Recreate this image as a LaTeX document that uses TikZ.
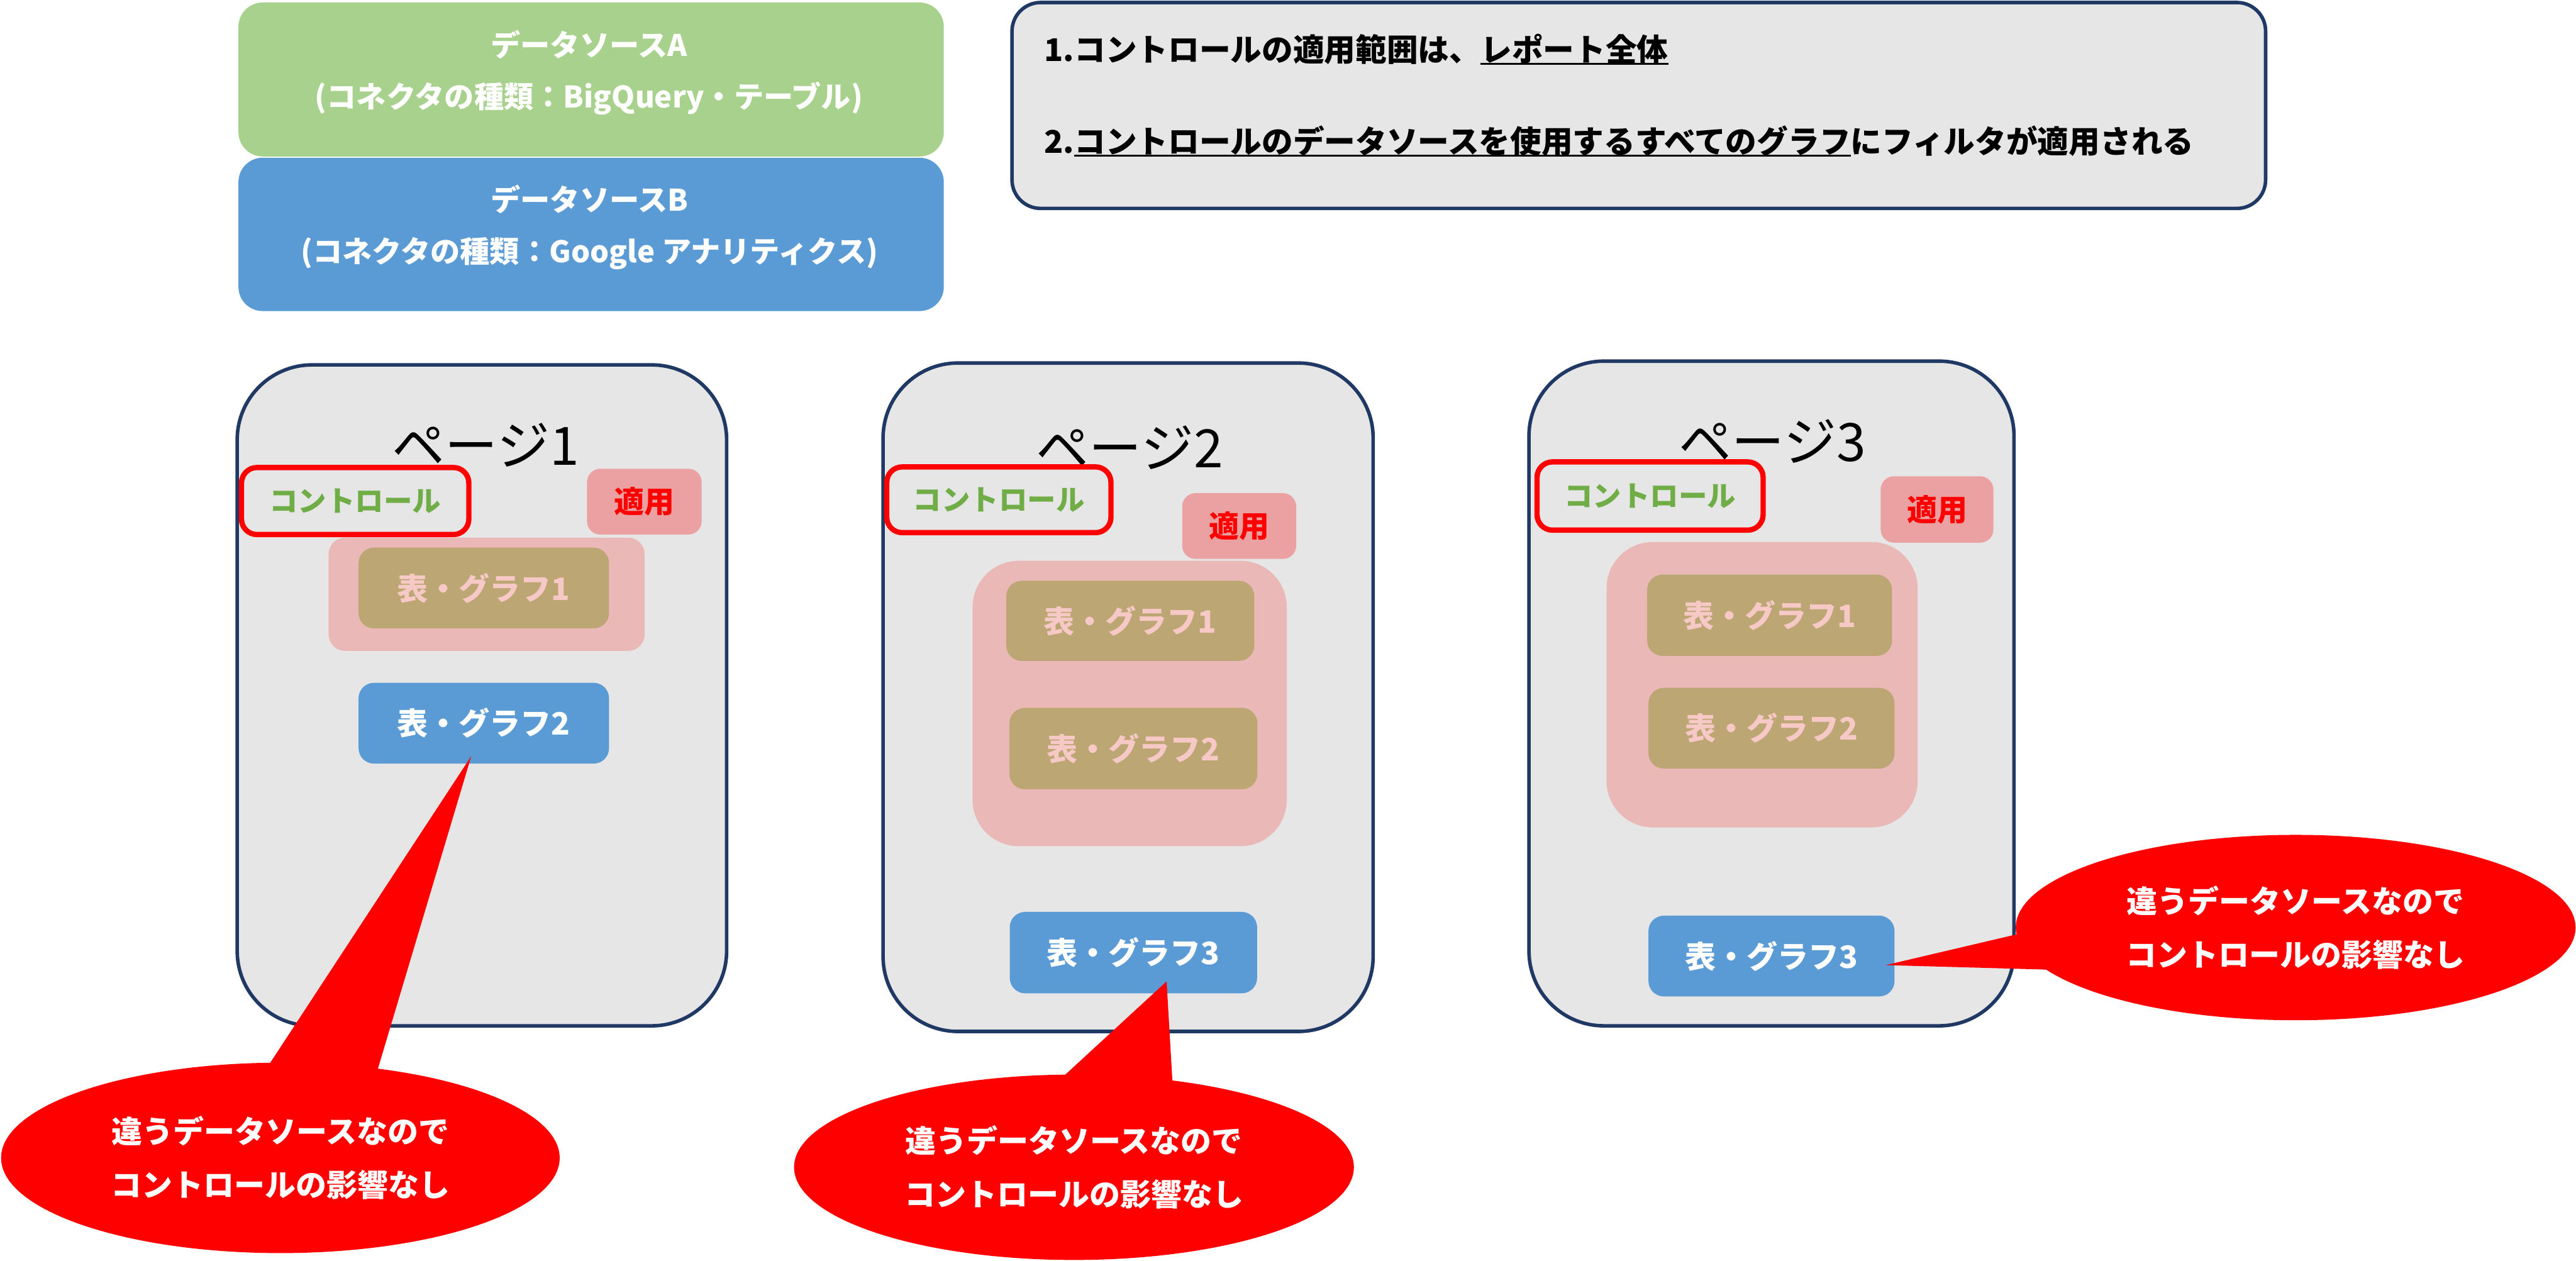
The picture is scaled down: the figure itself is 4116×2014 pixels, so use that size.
\documentclass[tikz,border=0pt]{standalone}
\usepackage{fontspec}
\newfontfamily\jp{Noto Sans CJK JP}
\usetikzlibrary{shapes.geometric,fit}
\definecolor{dsgreen}{HTML}{A9D18E}
\definecolor{boxblue}{HTML}{5B9BD5}
\definecolor{pagegray}{HTML}{E6E6E6}
\definecolor{navy}{HTML}{1F3864}
\definecolor{ctlgreen}{HTML}{70AD47}
\definecolor{applypink}{HTML}{EBA1A1}
\definecolor{zonepink}{HTML}{EBB8B8}
\definecolor{graphtan}{HTML}{BCA774}
\definecolor{pinktext}{HTML}{F6C8C6}
\newcommand\myul[1]{\setbox0\hbox{#1}\rlap{\rule[-1.5pt]{\wd0}{0.8pt}}\box0}
\tikzset{
  pagebox/.style={draw=navy, line width=1.6pt, fill=pagegray, rounded corners=34pt, inner sep=0pt},
  dsbox/.style={rounded corners=11pt, inner sep=0pt},
  dstext/.style={text=white, font=\jp\bfseries\fontsize{13.5}{23.6}\selectfont, align=center, inner sep=0pt},
  infobox/.style={draw=navy, line width=1.6pt, fill=pagegray, rounded corners=13pt, inner sep=0pt},
  infotext/.style={anchor=base west, inner sep=0pt, font=\jp\bfseries\fontsize{14.2}{17}\selectfont},
  pagetitle/.style={inner sep=0pt, font=\jp\fontsize{24}{28}\selectfont},
  ctlbox/.style={draw=red, line width=2.4pt, rounded corners=7pt, inner sep=0pt, text=ctlgreen, font=\jp\bfseries\fontsize{13}{15}\selectfont},
  applybox/.style={fill=applypink, rounded corners=6pt, inner sep=0pt, text=red, font=\jp\bfseries\fontsize{13.7}{16}\selectfont},
  zone/.style={fill=zonepink, inner sep=0pt},
  graphA/.style={fill=graphtan, rounded corners=7pt, inner sep=0pt, text=pinktext, font=\jp\bfseries\fontsize{14}{17}\selectfont},
  graphB/.style={fill=boxblue, rounded corners=7pt, inner sep=0pt, text=white, font=\jp\bfseries\fontsize{14}{17}\selectfont},
  bubble/.style={ellipse, fill=red, inner sep=0pt, text=white, align=center, font=\jp\bfseries\fontsize{14}{24.2}\selectfont},
  wedge/.style={fill=red},
  sz/.style 2 args={minimum width=#1cm, minimum height=#2cm},
}
\begin{document}
\begin{tikzpicture}[x=0.01cm,y=-0.01cm]
\useasboundingbox[fill=white] (0,0) rectangle (4116,2014);

% data sources
\node[dsbox, fill=dsgreen, fit={(381,4) (1508,250)}] (dsA) {};
\node[dstext] (dsAtxt) at (941,116) {データソースA\\(コネクタの種類：BigQuery・テーブル)};
\node[dsbox, fill=boxblue, fit={(381,252) (1508,497)}] (dsB) {};
\node[dstext] (dsBtxt) at (942,363) {データソースB\\(コネクタの種類：Google アナリティクス)};

% info box
\node[infobox, fit={(1617,4) (3620,333)}] (info) {};
\node[infotext] (info1) at (1668,98) {1.コントロールの適用範囲は、\myul{レポート全体}};
\node[infotext] (info2) at (1668,245) {2.\myul{コントロールのデータソースを使用するすべてのグラフ}にフィルタが適用される};

% pages
\node[pagebox, fit={(379,583) (1161,1639)}] (p1) {};
\node[pagebox, fit={(1411,580) (2194,1648)}] (p2) {};
\node[pagebox, fit={(2443,577) (3218,1639)}] (p3) {};

\node[pagetitle] (t1) at (776,711) {ページ1};
\node[pagetitle] (t2) at (1805,715) {ページ2};
\node[pagetitle] (t3) at (2832,705) {ページ3};

% page 1 content
\node[ctlbox, sz={3.63}{1.07}] (ctl1) at (567.5,800.5) {コントロール};
\node[applybox, sz={1.83}{1.05}] (ap1) at (1029.5,801.5) {適用};
\node[zone, rounded corners=7.5pt, fit={(525,859) (1030,1040)}] (z1) {};
\node[graphA, sz={4.00}{1.29}] (g11) at (773,939.5) {表・グラフ1};
\node[graphB, sz={4.00}{1.29}] (g12) at (773,1155.5) {表・グラフ2};

% page 2 content
\node[ctlbox, sz={3.58}{1.05}] (ctl2) at (1596,798.5) {コントロール};
\node[applybox, sz={1.82}{1.05}] (ap2) at (1980,840.5) {適用};
\node[zone, rounded corners=21pt, fit={(1554,896) (2056,1352)}] (z2) {};
\node[graphA, sz={3.96}{1.28}] (g21) at (1806,992) {表・グラフ1};
\node[graphA, sz={3.96}{1.30}] (g22) at (1811,1196) {表・グラフ2};
\node[graphB, sz={3.95}{1.30}] (g23) at (1811,1522) {表・グラフ3};

% page 3 content
\node[ctlbox, sz={3.61}{1.09}] (ctl3) at (2636.5,792.5) {コントロール};
\node[applybox, sz={1.80}{1.06}] (ap3) at (3095,814) {適用};
\node[zone, rounded corners=21pt, fit={(2567,866) (3064,1322)}] (z3) {};
\node[graphA, sz={3.91}{1.30}] (g31) at (2827.5,983) {表・グラフ1};
\node[graphA, sz={3.93}{1.29}] (g32) at (2830.5,1163.5) {表・グラフ2};
\node[graphB, sz={3.93}{1.29}] (g33) at (2830.5,1527.5) {表・グラフ3};

% callouts
\coordinate (tip1) at (753,1208);
\coordinate (c1a) at (420,1716);
\coordinate (c1b) at (598,1727);
\fill[wedge] (tip1) -- (c1a) -- (c1b) -- cycle;
\node[bubble, sz={8.92}{3.04}] (call1) at (448,1850) {違うデータソースなので\\コントロールの影響なし};

\coordinate (tip2) at (1864,1568);
\coordinate (c2a) at (1688,1730);
\coordinate (c2b) at (1874,1740);
\fill[wedge] (tip2) -- (c2a) -- (c2b) -- cycle;
\node[bubble, sz={8.94}{2.96}] (call2) at (1716,1865) {違うデータソースなので\\コントロールの影響なし};

\coordinate (tip3) at (3013,1542);
\coordinate (c3a) at (3260,1484);
\coordinate (c3b) at (3300,1550);
\fill[wedge] (tip3) -- (c3a) -- (c3b) -- cycle;
\node[bubble, sz={8.94}{2.96}] (call3) at (3668,1482) {違うデータソースなので\\コントロールの影響なし};
\end{tikzpicture}
\end{document}
